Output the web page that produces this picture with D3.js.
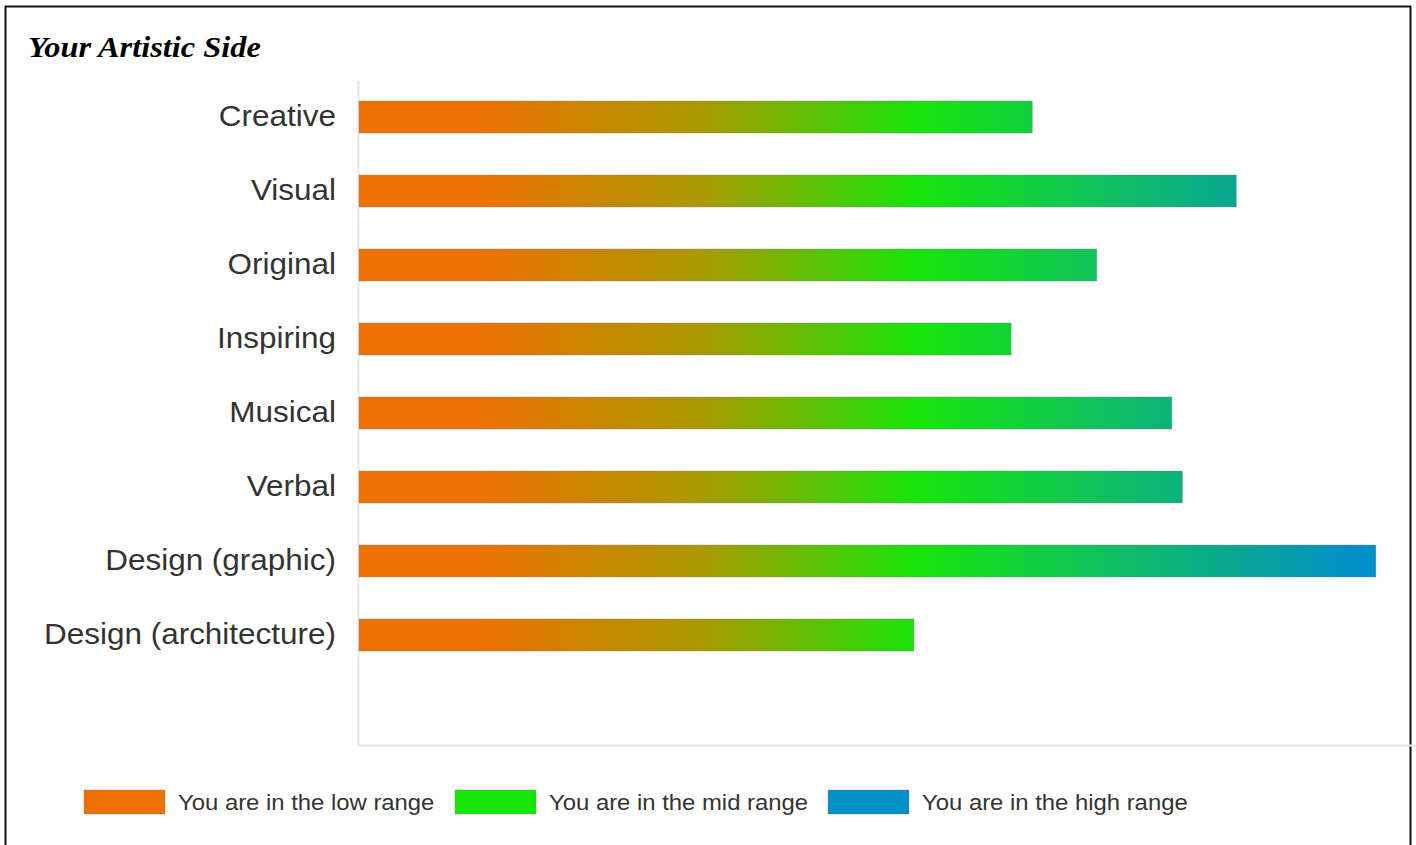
<!DOCTYPE html>
<html>
<head>
<meta charset="utf-8">
<script src="https://cdn.jsdelivr.net/npm/d3@7/dist/d3.min.js"></script>
<style>
  html, body { margin: 0; padding: 0; background: #fff; }
  svg { display: block; }
</style>
</head>
<body>
<script>
const categories = ["Creative", "Visual", "Original", "Inspiring", "Musical", "Verbal", "Design (graphic)", "Design (architecture)", ""];
const values = [63.7, 83.0, 69.8, 61.7, 76.9, 77.9, 96.2, 52.5];
const legendLabels = ["You are in the low range", "You are in the mid range", "You are in the high range"];
const legendColors = ["#EE7203", "#16E50A", "#0290C8"];
const title = "Your Artistic Side";

const W = 1416, H = 845;
const SX = 1.085; // horizontal text stretch seen in the reference
const svg = d3.select("body").append("svg").attr("width", W).attr("height", H);

// frame
svg.append("path")
  .attr("d", `M5.5,${H} V6.5 H1410.5 V${H}`)
  .attr("fill", "none").attr("stroke", "#111").attr("stroke-width", 2);

svg.append("text")
  .attr("transform", `translate(28,57) scale(1.08,1)`)
  .attr("font-family", "'Liberation Serif', 'Times New Roman', serif")
  .attr("font-weight", "bold").attr("font-style", "italic")
  .attr("font-size", 30).attr("fill", "#000")
  .text(title);

const x = d3.scaleLinear().domain([0, 100]).range([359, 1416]);
const y = d3.scaleBand().domain(categories).range([80, 746]).paddingInner(0.568).paddingOuter(0.284);

const defs = svg.append("defs");
const grad = defs.append("linearGradient").attr("id", "barGrad")
  .attr("gradientUnits", "userSpaceOnUse")
  .attr("x1", x(0)).attr("x2", x(96.2)).attr("y1", 0).attr("y2", 0);
[[0, "#EE7203"], [0.12, "#EE7203"], [0.34, "#A89A00"], [0.55, "#16E50A"], [0.72, "#10C45A"], [0.87, "#09A596"], [0.98, "#028FC9"], [1, "#028FC9"]]
  .forEach(([o, c]) => grad.append("stop").attr("offset", o).attr("stop-color", c));

// axes lines
svg.append("line").attr("x1", 358.5).attr("x2", 358.5).attr("y1", 81).attr("y2", 746)
  .attr("stroke", "#e6e6e6").attr("stroke-width", 2);
svg.append("line").attr("x1", 358).attr("x2", W).attr("y1", 745.5).attr("y2", 745.5)
  .attr("stroke", "#e6e6e6").attr("stroke-width", 2);

const data = values.map((v, i) => ({ c: categories[i], v }));

svg.append("g").selectAll("rect").data(data).join("rect")
  .attr("x", x(0)).attr("y", d => y(d.c))
  .attr("width", d => x(d.v) - x(0)).attr("height", y.bandwidth())
  .attr("fill", "url(#barGrad)")
  .attr("stroke", "rgba(120,120,120,0.35)").attr("stroke-width", 1);

const yAxis = d3.axisLeft(y).tickSize(0).tickPadding(23);
const ga = svg.append("g").attr("transform", `translate(${x(0)},0)`).call(yAxis);
ga.select(".domain").remove();
ga.selectAll("text")
  .attr("font-family", "'Liberation Sans', Arial, sans-serif")
  .attr("font-size", 29).attr("fill", "#333")
  .attr("x", -23 / SX)
  .attr("transform", `scale(${SX},1)`);

// legend
const legendX = [84, 455, 828];
const lg = svg.append("g").selectAll("g").data(legendLabels).join("g")
  .attr("transform", (d, i) => `translate(${legendX[i]},790)`);
lg.append("rect").attr("width", 81).attr("height", 24)
  .attr("fill", (d, i) => legendColors[i])
  .attr("stroke", "rgba(120,120,120,0.35)").attr("stroke-width", 1);
lg.append("text")
  .attr("transform", `translate(94,12) scale(${SX},1)`)
  .attr("dy", "0.35em")
  .attr("font-family", "'Liberation Sans', Arial, sans-serif")
  .attr("font-size", 22).attr("fill", "#333")
  .text(d => d);
</script>
</body>
</html>
